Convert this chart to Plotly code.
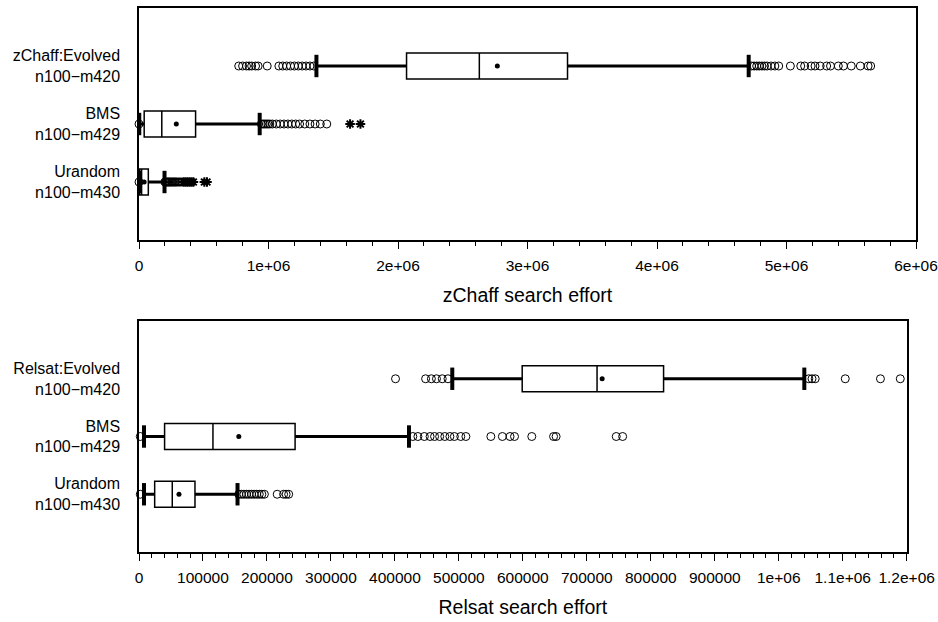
import plotly.graph_objects as go

# ---------------- data ----------------
rows = [1, 2, 3]
top_labels = ["Urandom<br>n100−m430", "BMS<br>n100−m429", "zChaff:Evolved<br>n100−m420"]
bot_labels = ["Urandom<br>n100−m430", "BMS<br>n100−m429", "Relsat:Evolved<br>n100−m420"]

# zChaff panel (Urandom, BMS, Evolved)
z_q1 = [5000, 40000, 2066000]
z_median = [20000, 176000, 2628000]
z_q3 = [72000, 437000, 3309000]
z_mean = [40000, 288000, 2767000]
z_lower = [2000, 2000, 1370000]
z_upper = [197000, 932000, 4708000]
z_out_urandom = [0, 200000, 207000, 214000, 221000, 228000, 235000, 242000, 250000, 258000,
                 266000, 274000, 282000, 290000, 300000, 310000, 320000, 332000]
z_ext_urandom = [345000, 360000, 375000, 390000, 405000, 420000, 505000, 525000]
z_out_bms = [0, 945000, 958000, 970000, 983000, 996000, 1010000, 1030000, 1060000, 1090000,
             1120000, 1150000, 1180000, 1210000, 1240000, 1280000, 1320000, 1360000, 1400000, 1450000]
z_ext_bms = [1630000, 1710000]
z_out_evolved = [770000, 800000, 830000, 850000, 870000, 900000, 920000, 990000,
                 1080000, 1110000, 1140000, 1170000, 1200000, 1230000, 1260000, 1290000, 1320000, 1350000,
                 4730000, 4750000, 4770000, 4790000, 4810000, 4830000, 4850000, 4880000, 4910000, 4940000,
                 5030000, 5110000, 5140000, 5190000, 5220000, 5260000, 5310000, 5340000, 5400000, 5440000,
                 5500000, 5570000, 5630000, 5650000]

# Relsat panel (Urandom, BMS, Evolved)
r_q1 = [24500, 40000, 599000]
r_median = [52000, 115600, 716000]
r_q3 = [87500, 244000, 820000]
r_mean = [62500, 156000, 724000]
r_lower = [7800, 7800, 489700]
r_upper = [154000, 422000, 1040000]
r_out_urandom = [2000, 156000, 160000, 164000, 168000, 172000, 176000, 180000, 184000, 188000,
                 192000, 196000, 216000, 226000, 230000, 234000]
r_out_bms = [2000, 428000, 436000, 446000, 455000, 462000, 470000, 478000, 486000, 493000, 503000,
             511000, 550000, 568000, 580000, 587000, 614000, 648000, 652000, 746000, 756000]
r_out_evolved = [401000, 448000, 457000, 465000, 474000, 483000,
                 1047000, 1052000, 1057000, 1104000, 1159000, 1190000]

top_tickvals = [0, 1000000, 2000000, 3000000, 4000000, 5000000, 6000000]
top_ticktext = ["0", "1e+06", "2e+06", "3e+06", "4e+06", "5e+06", "6e+06"]
bot_tickvals = [0, 100000, 200000, 300000, 400000, 500000, 600000, 700000, 800000, 900000,
                1000000, 1100000, 1200000]
bot_ticktext = ["0", "100000", "200000", "300000", "400000", "500000", "600000", "700000",
                "800000", "900000", "1e+06", "1.1e+06", "1.2e+06"]

FONT = "Liberation Sans, Arial, Helvetica, sans-serif"

fig = go.Figure()


def add_panel(xa, ya, q1, med, q3, mean, lower, upper, outs, exts):
    # whiskers
    wx, wy = [], []
    for r, lo, a, b, hi in zip(rows, lower, q1, q3, upper):
        wx += [lo, a, None, b, hi, None]
        wy += [r, r, None, r, r, None]
    fig.add_trace(go.Scatter(x=wx, y=wy, mode="lines", line=dict(color="black", width=3),
                             xaxis=xa, yaxis=ya, hoverinfo="skip", cliponaxis=False))
    # boxes
    fig.add_trace(go.Box(y=rows, q1=q1, median=med, q3=q3, lowerfence=q1, upperfence=q3,
                         orientation="h", width=0.45, whiskerwidth=0,
                         line=dict(color="black", width=1.5), fillcolor="white",
                         boxpoints=False, xaxis=xa, yaxis=ya))
    # caps
    fig.add_trace(go.Scatter(x=lower + upper, y=rows + rows, mode="markers",
                             marker=dict(symbol="line-ns", size=16, color="black",
                                         line=dict(color="black", width=4)),
                             xaxis=xa, yaxis=ya, hoverinfo="skip", cliponaxis=False))
    # outliers
    ox, oy = [], []
    for r, vals in zip(rows, outs):
        ox += vals
        oy += [r] * len(vals)
    fig.add_trace(go.Scatter(x=ox, y=oy, mode="markers",
                             marker=dict(symbol="circle-open", size=8, color="black",
                                         line=dict(color="black", width=1)),
                             xaxis=xa, yaxis=ya, cliponaxis=False))
    ex, ey = [], []
    for r, vals in zip(rows, exts):
        ex += vals
        ey += [r] * len(vals)
    if ex:
        fig.add_trace(go.Scatter(x=ex, y=ey, mode="markers",
                                 marker=dict(symbol="asterisk-open", size=8, color="black",
                                             line=dict(color="black", width=2)),
                                 xaxis=xa, yaxis=ya, cliponaxis=False))
    # means
    fig.add_trace(go.Scatter(x=mean, y=rows, mode="markers",
                             marker=dict(symbol="circle", size=5, color="black"),
                             xaxis=xa, yaxis=ya))


add_panel("x", "y", z_q1, z_median, z_q3, z_mean, z_lower, z_upper,
          [z_out_urandom, z_out_bms, z_out_evolved], [z_ext_urandom, z_ext_bms, []])
add_panel("x2", "y2", r_q1, r_median, r_q3, r_mean, r_lower, r_upper,
          [r_out_urandom, r_out_bms, r_out_evolved], [[], [], []])

xcommon = dict(showline=True, linecolor="black", linewidth=1.5, mirror=True, zeroline=False,
               showgrid=False, ticks="outside", ticklen=7, tickwidth=1, tickcolor="black",
               tickfont=dict(size=15.5, color="black"), ticklabelstandoff=4)
ycommon = dict(showline=True, linecolor="black", linewidth=1.5, mirror=True, zeroline=False,
               showgrid=False, ticks="", range=[0, 4], tickvals=rows,
               tickfont=dict(size=16, color="black"), ticklabelstandoff=14, automargin=False)

fig.update_layout(
    width=938, height=622,
    margin=dict(l=139, r=22, t=8, b=70),
    paper_bgcolor="white", plot_bgcolor="white",
    showlegend=False,
    font=dict(family=FONT, color="black"),
    xaxis=dict(domain=[0, 1], anchor="y", range=[0, 6000000], tickvals=top_tickvals,
               ticktext=top_ticktext,
               minor=dict(dtick=200000, tick0=0, ticks="outside", ticklen=4, tickcolor="black"),
               title=dict(text="zChaff search effort", font=dict(size=19.5), standoff=15),
               automargin=False, **xcommon),
    yaxis=dict(domain=[0.5735, 1], anchor="x", ticktext=top_labels, **ycommon),
    xaxis2=dict(domain=[0, 0.988], anchor="y2", range=[0, 1200000], tickvals=bot_tickvals,
                ticktext=bot_ticktext,
                minor=dict(dtick=20000, tick0=0, ticks="outside", ticklen=4, tickcolor="black"),
                title=dict(text="Relsat search effort", font=dict(size=19.5), standoff=15),
                automargin=False, **xcommon),
    yaxis2=dict(domain=[0, 0.4246], anchor="x2", ticktext=bot_labels, **ycommon),
)

fig.write_html(
    "out.html",
    config={"displayModeBar": False},
    post_script="document.body.style.margin='0';document.body.style.overflow='hidden';",
)
